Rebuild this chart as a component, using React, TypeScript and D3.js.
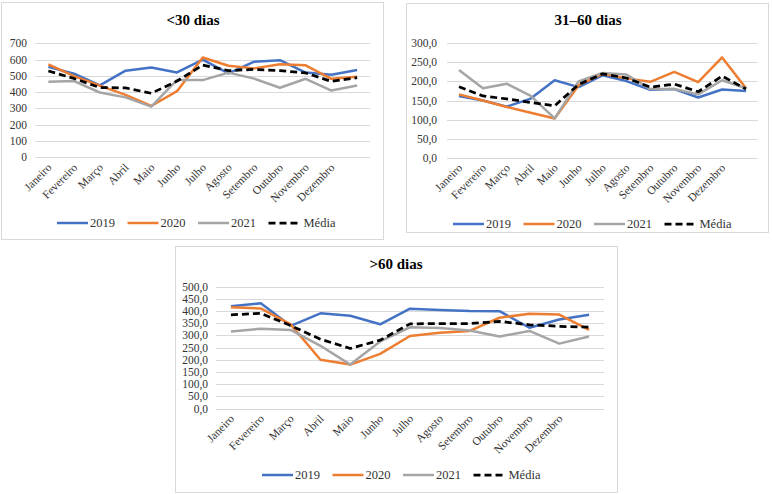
import { useEffect, useRef } from "react";
import * as d3 from "d3";

// categories: 13 points on the axis, the last one has no label
const months = [
  "Janeiro", "Fevereiro", "Março", "Abril", "Maio", "Junho", "Julho",
  "Agosto", "Setembro", "Outubro", "Novembro", "Dezembro", "",
];

const seriesNames = ["2019", "2020", "2021", "Média"];
const seriesColors = ["#4472C4", "#ED7D31", "#A5A5A5", "#000000"];

// <30 dias
const lt30_2019 = [555, 513, 442, 532, 552, 521, 600, 515, 587, 596, 520, 507, 536];
const lt30_2020 = [570, 498, 440, 383, 315, 406, 613, 562, 546, 572, 565, 482, 495];
const lt30_2021 = [464, 468, 398, 368, 311, 475, 474, 520, 483, 427, 482, 410, 441];
const lt30_media = [530, 484, 428, 426, 393, 468, 566, 532, 540, 532, 518, 466, 489];
const lt30_ticks = [0, 100, 200, 300, 400, 500, 600, 700];

// 31–60 dias
const d31_2019 = [162, 150, 134, 155, 203, 185, 216, 201, 178, 180, 158, 179, 175];
const d31_2020 = [166, 150, 133, 118, 103, 190, 220, 208, 199, 225, 198, 263, 182];
const d31_2021 = [230, 182, 194, 162, 103, 200, 222, 218, 180, 180, 166, 203, 182];
const d31_media = [186, 162, 154, 145, 136, 192, 220, 209, 185, 193, 173, 214, 180];
const d31_ticks = [0, 50, 100, 150, 200, 250, 300];

// >60 dias
const gt60_2019 = [419, 431, 339, 390, 380, 345, 409, 404, 400, 399, 331, 365, 384];
const gt60_2020 = [415, 410, 345, 200, 180, 224, 297, 310, 318, 372, 388, 385, 322];
const gt60_2021 = [316, 327, 322, 257, 180, 275, 333, 330, 320, 295, 318, 266, 295];
const gt60_media = [384, 390, 340, 284, 246, 280, 347, 348, 348, 357, 343, 337, 333];
const gt60_ticks = [0, 50, 100, 150, 200, 250, 300, 350, 400, 450, 500];

const panels = [
  {
    title: "<30 dias",
    series: [lt30_2019, lt30_2020, lt30_2021, lt30_media],
    ticks: lt30_ticks,
    fmt: (v: number) => String(v),
    box: [1, 2, 382, 237],
    plot: { x0: 35.5, x1: 370, y0: 157.3, y1: 43.3 },
    labelX: 27,
    titleX: 193, titleY: 25,
    legendX: 57, legendY: 223,
  },
  {
    title: "31–60 dias",
    series: [d31_2019, d31_2020, d31_2021, d31_media],
    ticks: d31_ticks,
    fmt: (v: number) => v.toFixed(1).replace(".", ","),
    box: [406, 3, 362, 229],
    plot: { x0: 447, x1: 758, y0: 157.7, y1: 43.3 },
    labelX: 437,
    titleX: 588, titleY: 25,
    legendX: 453, legendY: 224,
  },
  {
    title: ">60 dias",
    series: [gt60_2019, gt60_2020, gt60_2021, gt60_media],
    ticks: gt60_ticks,
    fmt: (v: number) => v.toFixed(1).replace(".", ","),
    box: [175, 246, 442, 246],
    plot: { x0: 216, x1: 604, y0: 408.5, y1: 286.5 },
    labelX: 208,
    titleX: 396, titleY: 269,
    legendX: 262, legendY: 475,
  },
];

const FONT = "'Liberation Serif', 'Times New Roman', serif";

const App = () => {
  const svgRef = useRef<SVGSVGElement | null>(null);

  useEffect(() => {
    if (!svgRef.current) return;
    const svg = d3.select(svgRef.current);
    svg.selectAll("*").remove();

    svg.append("rect").attr("width", 772).attr("height", 494).attr("fill", "#fff");

    panels.forEach((p) => {
      const g = svg.append("g").style("font-family", FONT);
      const [bx, by, bw, bh] = p.box;

      g.append("rect")
        .attr("x", bx + 0.5)
        .attr("y", by + 0.5)
        .attr("width", bw)
        .attr("height", bh)
        .attr("fill", "#fff")
        .attr("stroke", "#d9d9d9");

      const x = d3
        .scalePoint<number>()
        .domain(d3.range(months.length))
        .range([p.plot.x0, p.plot.x1])
        .padding(0.5);

      const maxTick = p.ticks[p.ticks.length - 1];
      const y = d3.scaleLinear().domain([0, maxTick]).range([p.plot.y0, p.plot.y1]);

      // gridlines
      g.selectAll(".grid")
        .data(p.ticks)
        .enter()
        .append("line")
        .attr("x1", p.plot.x0)
        .attr("x2", p.plot.x1)
        .attr("y1", (d) => Math.round(y(d)) + 0.5)
        .attr("y2", (d) => Math.round(y(d)) + 0.5)
        .attr("stroke", "#d9d9d9")
        .attr("stroke-width", 1);

      // y labels
      g.selectAll(".ylab")
        .data(p.ticks)
        .enter()
        .append("text")
        .attr("x", p.labelX)
        .attr("y", (d) => y(d) + 4)
        .attr("text-anchor", "end")
        .style("font-size", "11.5px")
        .attr("fill", "#333")
        .text((d) => p.fmt(d));

      // month labels
      g.selectAll(".xlab")
        .data(months)
        .enter()
        .append("text")
        .attr("transform", (_d, i) => `translate(${(x(i) ?? 0) + 4},${p.plot.y0 + 11}) rotate(-45)`)
        .attr("text-anchor", "end")
        .style("font-size", "11.5px")
        .attr("fill", "#333")
        .text((d) => d);

      // lines
      const line = d3
        .line<number>()
        .x((_d, i) => x(i) ?? 0)
        .y((d) => y(d));

      p.series.forEach((s, si) => {
        g.append("path")
          .datum(s)
          .attr("d", line)
          .attr("fill", "none")
          .attr("stroke", seriesColors[si])
          .attr("stroke-width", si === 3 ? 2.75 : 2.5)
          .attr("stroke-dasharray", si === 3 ? "7,4" : null)
          .attr("stroke-linejoin", "round");
      });

      // title
      g.append("text")
        .attr("x", p.titleX)
        .attr("y", p.titleY)
        .attr("text-anchor", "middle")
        .style("font-size", "15px")
        .style("font-weight", "bold")
        .attr("fill", "#000")
        .text(p.title);

      // legend
      seriesNames.forEach((name, si) => {
        const lx = p.legendX + si * 70.5;
        g.append("line")
          .attr("x1", lx)
          .attr("x2", lx + 31)
          .attr("y1", p.legendY)
          .attr("y2", p.legendY)
          .attr("stroke", seriesColors[si])
          .attr("stroke-width", si === 3 ? 2.75 : 2.5)
          .attr("stroke-dasharray", si === 3 ? "7,4" : null);
        g.append("text")
          .attr("x", lx + (si === 3 ? 35 : 33))
          .attr("y", p.legendY + 4)
          .style("font-size", "12.5px")
          .attr("fill", "#333")
          .text(name);
      });
    });
  }, []);

  return (
    <svg
      ref={svgRef}
      width={772}
      height={494}
      style={{ position: "absolute", left: 0, top: 0 }}
    ></svg>
  );
};

export default App;
